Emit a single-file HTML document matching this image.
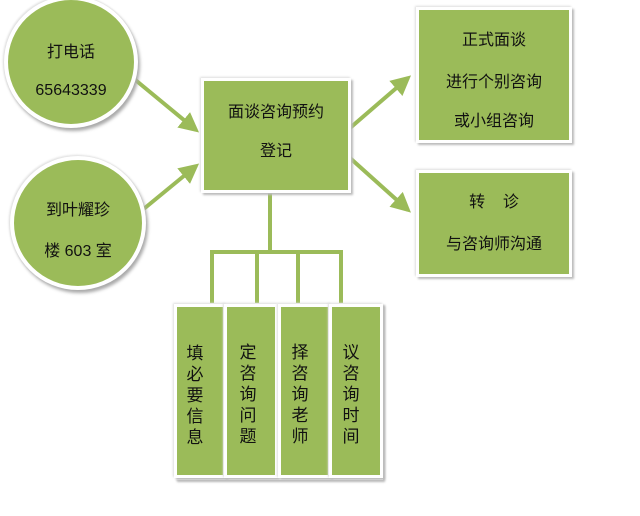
<!DOCTYPE html>
<html><head><meta charset="utf-8"><style>
body{margin:0;background:#fff;width:640px;height:516px;overflow:hidden;position:relative;font-family:"Liberation Sans","Noto Sans CJK SC",sans-serif;color:#111}
.b{position:absolute;background:#9bbb59;border:3px solid #fff;box-shadow:2px 2px 2px #bbb,-1px -1px 2px #ddd;box-sizing:border-box}
.c{position:absolute;background:#9bbb59;border:4px solid #fff;border-radius:50%;box-shadow:2px 3px 3px #aaa,-1px -1px 2px #ddd;box-sizing:border-box}
.t{position:absolute;font-size:16px;white-space:nowrap;text-align:center}
.v{position:absolute;font-size:17px;line-height:21px;width:20px;text-align:center}
</style></head><body>
<svg width="640" height="516" style="position:absolute;left:0;top:0">
<defs><marker id="a" markerWidth="6" markerHeight="6" refX="4" refY="3" orient="auto" markerUnits="strokeWidth"><path d="M0,0.5 L5,3 L0,5.5 z" fill="#9bbb59"/></marker></defs>
<g stroke="#9bbb59" stroke-width="4" fill="none">
<line x1="133" y1="78" x2="196" y2="130" marker-end="url(#a)"/>
<line x1="140" y1="212" x2="196" y2="166" marker-end="url(#a)"/>
<line x1="350" y1="128" x2="408" y2="78" marker-end="url(#a)"/>
<line x1="350" y1="158" x2="408" y2="210" marker-end="url(#a)"/>
<path d="M270 192 V252 M212 303 V252 H341 V303 M257 252 V303 M298 252 V303"/>
</g></svg>
<div class="c" style="left:4px;top:-4px;width:134px;height:132px"></div>
<div class="c" style="left:10px;top:156px;width:136px;height:134px"></div>
<div class="t" style="left:4px;width:134px;top:38px">打电话</div>
<div class="t" style="left:4px;width:134px;top:82px">65643339</div>
<div class="t" style="left:10px;width:136px;top:196px">到叶耀珍</div>
<div class="t" style="left:10px;width:136px;top:237px">楼 603 室</div>
<div class="b" style="left:201px;top:78px;width:150px;height:115px"></div>
<div class="t" style="left:201px;width:150px;top:98px">面谈咨询预约</div>
<div class="t" style="left:201px;width:150px;top:137px">登记</div>
<div class="b" style="left:416px;top:7px;width:156px;height:136px"></div>
<div class="t" style="left:416px;width:156px;top:26px">正式面谈</div>
<div class="t" style="left:416px;width:156px;top:68px">进行个别咨询</div>
<div class="t" style="left:416px;width:156px;top:107px">或小组咨询</div>
<div class="b" style="left:416px;top:170px;width:156px;height:107px"></div>
<div class="t" style="left:416px;width:156px;top:188px">转&nbsp;&nbsp;&nbsp;&nbsp;诊</div>
<div class="t" style="left:416px;width:156px;top:230px">与咨询师沟通</div>
<div style="position:absolute;left:175px;top:303px;width:208px;height:177px;background:#fff;box-shadow:2px 2px 2px #bbb"></div>
<div class="b" style="left:174px;top:304px;width:52px;height:174px"></div>
<div class="b" style="left:224px;top:304px;width:54px;height:174px"></div>
<div class="b" style="left:278px;top:304px;width:53px;height:174px"></div>
<div class="b" style="left:329px;top:304px;width:54px;height:174px"></div>
<div class="v" style="left:185px;top:343px">填必要信息</div>
<div class="v" style="left:238px;top:342px">定咨询问题</div>
<div class="v" style="left:290px;top:342px">择咨询老师</div>
<div class="v" style="left:341px;top:342px">议咨询时间</div>
</body></html>
